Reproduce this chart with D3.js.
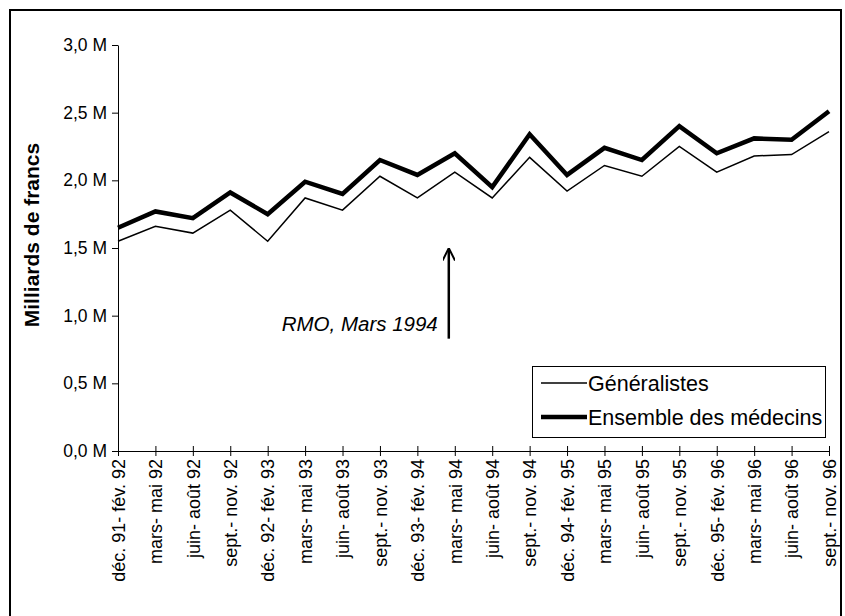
<!DOCTYPE html>
<style>
    body {
        margin: 0;
        background: #fff;
        font-family: "Liberation Sans", Arial, Helvetica, sans-serif;
    }
    .axis .domain { stroke: #000; }
    .axis line { stroke: #000; }
    .axis text { fill: #000; font-family: "Liberation Sans", Arial, sans-serif; }
</style>

<svg width="845" height="616"></svg>
<script src="https://d3js.org/d3.v7.min.js"></script>
<script>

    var periods = ["déc. 91- fév. 92", "mars- mai 92", "juin- août 92", "sept.- nov. 92",
        "déc. 92- fév. 93", "mars- mai 93", "juin- août 93", "sept.- nov. 93",
        "déc. 93- fév. 94", "mars- mai 94", "juin- août 94", "sept.- nov. 94",
        "déc. 94- fév. 95", "mars- mai 95", "juin- août 95", "sept.- nov. 95",
        "déc. 95- fév. 96", "mars- mai 96", "juin- août 96", "sept.- nov. 96"];

    // milliards de francs
    var generalistes = [1.55, 1.66, 1.61, 1.78, 1.55, 1.87, 1.78, 2.03, 1.87, 2.06,
        1.87, 2.17, 1.92, 2.11, 2.03, 2.25, 2.06, 2.18, 2.19, 2.36];
    var ensemble = [1.65, 1.77, 1.72, 1.91, 1.75, 1.99, 1.90, 2.15, 2.04, 2.20,
        1.95, 2.34, 2.04, 2.24, 2.15, 2.40, 2.20, 2.31, 2.30, 2.51];

    var yTicks = [0, 0.5, 1, 1.5, 2, 2.5, 3];

    var seriesNames = ["Généralistes", "Ensemble des médecins"];
    var annotation = "RMO, Mars 1994";

    var svg = d3.select("svg");

    // outer frame
    svg.append("rect")
        .attr("x", 10).attr("y", 10)
        .attr("width", 831).attr("height", 610)
        .attr("fill", "none")
        .attr("stroke", "#000")
        .attr("stroke-width", 2);

    var x = d3.scalePoint()
        .domain(periods)
        .range([118, 829]);

    var y = d3.scaleLinear()
        .domain([0, 3])
        .range([451, 45]);

    var fmt = function(d) { return d3.format(".1f")(d).replace(".", ",") + " M"; };

    // y axis
    var yAxis = svg.append("g")
        .attr("class", "axis")
        .attr("transform", "translate(118,0)")
        .call(d3.axisLeft(y).tickValues(yTicks).tickFormat(fmt).tickSizeInner(6).tickSizeOuter(0).tickPadding(5));
    yAxis.selectAll(".tick line").attr("x1", 0).attr("x2", -6);
    yAxis.selectAll(".tick text").attr("font-size", 17.5);

    // x axis
    var xAxis = svg.append("g")
        .attr("class", "axis")
        .attr("transform", "translate(0,451)")
        .call(d3.axisBottom(x).tickSizeInner(5).tickSizeOuter(0));
    xAxis.selectAll(".tick line").attr("y1", -5).attr("y2", 5);
    xAxis.selectAll(".tick text")
        .attr("font-size", 18)
        .attr("transform", "rotate(-90)")
        .attr("x", -8)
        .attr("y", 0)
        .attr("dy", "0.35em")
        .attr("text-anchor", "end");

    svg.append("text")
        .attr("transform", "translate(39,235) rotate(-90)")
        .attr("text-anchor", "middle")
        .attr("font-size", 21)
        .attr("font-weight", "bold")
        .text("Milliards de francs");

    var line = d3.line()
        .x(function(d, i) { return x(periods[i]); })
        .y(function(d) { return y(d); });

    svg.append("path")
        .datum(generalistes)
        .attr("fill", "none")
        .attr("stroke", "#000")
        .attr("stroke-width", 1.5)
        .attr("d", line);

    svg.append("path")
        .datum(ensemble)
        .attr("fill", "none")
        .attr("stroke", "#000")
        .attr("stroke-width", 4.5)
        .attr("d", line);

    // annotation arrow
    var ax = x(periods[9]) - 6;
    svg.append("defs").append("marker")
        .attr("id", "head")
        .attr("viewBox", "0 0 10 10")
        .attr("refX", 9).attr("refY", 5)
        .attr("markerWidth", 5).attr("markerHeight", 5)
        .attr("markerUnits", "strokeWidth")
        .attr("orient", "auto")
        .append("path")
        .attr("d", "M0,0 L10,5 L0,10")
        .attr("fill", "none")
        .attr("stroke", "#000")
        .attr("stroke-width", 1.6);

    svg.append("line")
        .attr("x1", ax).attr("x2", ax)
        .attr("y1", y(0.83)).attr("y2", y(1.49))
        .attr("stroke", "#000")
        .attr("stroke-width", 2.5)
        .attr("marker-end", "url(#head)");

    svg.append("text")
        .attr("x", ax - 11)
        .attr("y", y(0.885))
        .attr("text-anchor", "end")
        .attr("font-size", 20.5)
        .attr("font-style", "italic")
        .text(annotation);

    // legend
    var legend = svg.append("g").attr("transform", "translate(532,366)");
    legend.append("rect")
        .attr("x", 0.5).attr("y", 0.5)
        .attr("width", 293).attr("height", 71)
        .attr("fill", "#fff")
        .attr("stroke", "#000");

    var item = legend.selectAll(".item")
        .data(seriesNames)
        .enter().append("g")
        .attr("class", "item")
        .attr("transform", function(d, i) { return "translate(0," + (17 + i * 34) + ")"; });

    item.append("line")
        .attr("x1", 9).attr("x2", 55)
        .attr("stroke", "#000")
        .attr("stroke-width", function(d, i) { return i ? 4.5 : 1.5; });

    item.append("text")
        .attr("x", 56)
        .attr("dy", "0.35em")
        .attr("font-size", 21.5)
        .text(function(d) { return d; });

</script>
